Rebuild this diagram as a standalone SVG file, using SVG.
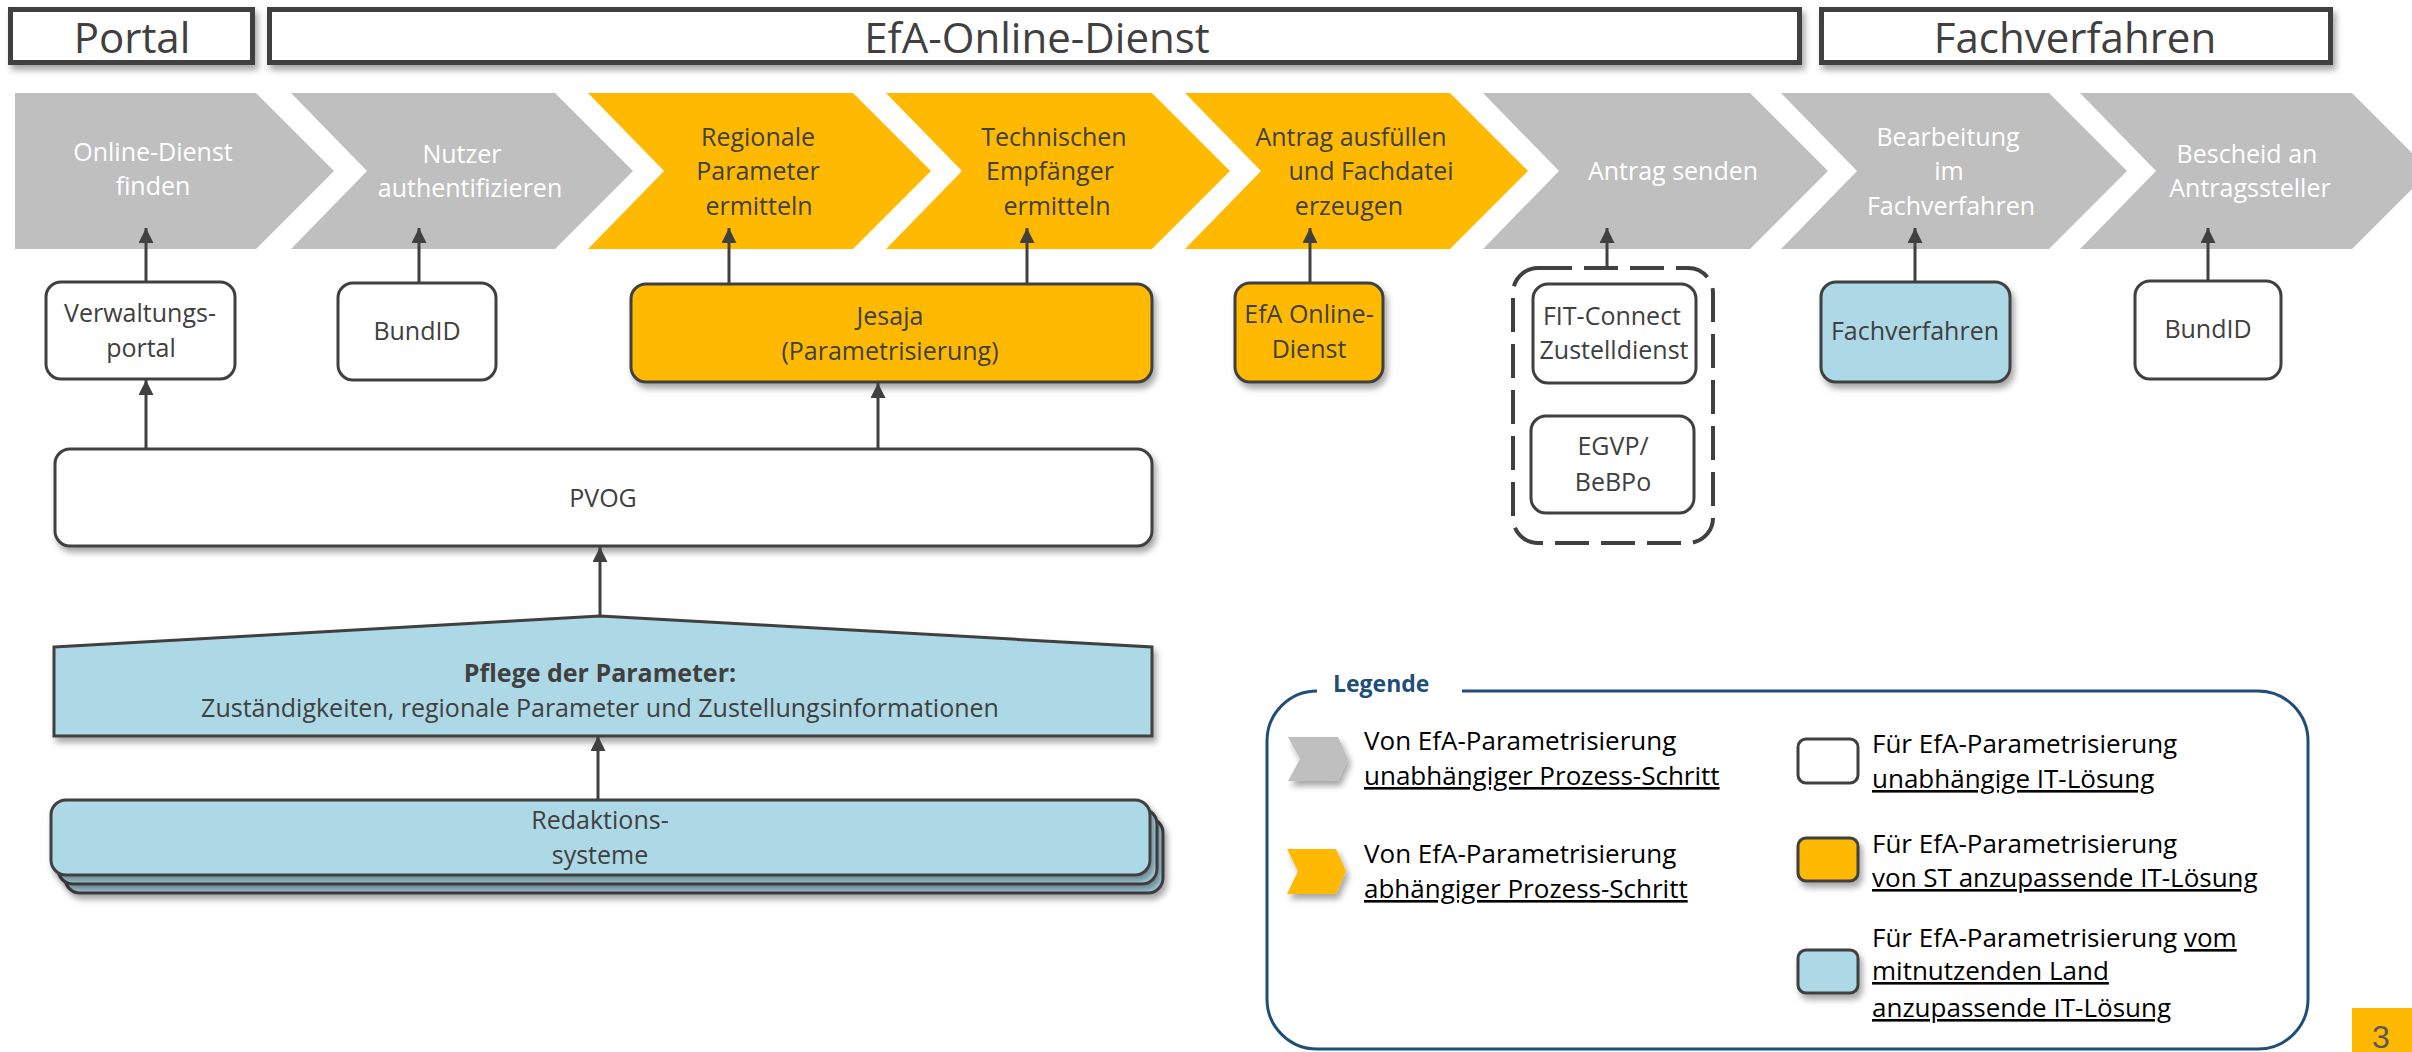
<svg xmlns="http://www.w3.org/2000/svg" width="2412" height="1052" viewBox="0 0 2412 1052">
<defs>
<style>
text{font-family:"Open Sans","Liberation Sans",sans-serif;fill:#404040;font-size:25px;text-anchor:middle}
.w{fill:#ffffff}
.hd{font-size:42px}
.lg{text-anchor:start;fill:#000000;font-size:26px}
.u{text-decoration:underline}
.box{stroke:#404040;stroke-width:3}
.hbox{fill:#ffffff;stroke:#404040;stroke-width:5}
.gray{fill:#BFBFBF}
.org{fill:#FFB900}
.blue{fill:#ADD8E6}
.wh{fill:#ffffff}
.con{stroke:#404040;stroke-width:3;fill:none;marker-end:url(#ah)}
</style>
<marker id="ah" viewBox="0 0 15 15" refX="15" refY="7.5" markerWidth="15" markerHeight="15" markerUnits="userSpaceOnUse" orient="auto">
<path d="M0,0 L15,7.5 L0,15 z" fill="#404040"/>
</marker>
<filter id="sh" x="-10%" y="-20%" width="130%" height="160%">
<feDropShadow dx="3" dy="5" stdDeviation="3" flood-color="#000000" flood-opacity="0.35"/>
</filter>
</defs>

<g id="header-portal">
<rect class="hbox" x="10.5" y="9.5" width="242" height="53" filter="url(#sh)"/>
<text class="hd" x="132" y="53">Portal</text>
</g>
<g id="header-efa">
<rect class="hbox" x="269.5" y="9.5" width="1530" height="53" filter="url(#sh)"/>
<text class="hd" x="1037" y="53">EfA-Online-Dienst</text>
</g>
<g id="header-fach">
<rect class="hbox" x="1821.5" y="9.5" width="509" height="53" filter="url(#sh)"/>
<text class="hd" x="2075" y="53">Fachverfahren</text>
</g>

<g id="step1">
<polygon class="gray" points="15,93 256,93 334,171 256,249 15,249"/>
<text class="w" x="153" y="161">Online-Dienst</text>
<text class="w" x="153" y="195">finden</text>
</g>
<g id="step2">
<polygon class="gray" points="291,93 555,93 633,171 555,249 291,249 367,171"/>
<text class="w" x="462" y="163">Nutzer</text>
<text class="w" x="470" y="197">authentifizieren</text>
</g>
<g id="step3">
<polygon class="org" points="588,93 853,93 931,171 853,249 588,249 664,171"/>
<text x="758" y="146">Regionale</text>
<text x="758" y="180">Parameter</text>
<text x="759" y="215">ermitteln</text>
</g>
<g id="step4">
<polygon class="org" points="886,93 1152,93 1230,171 1152,249 886,249 962,171"/>
<text x="1054" y="146">Technischen</text>
<text x="1050" y="180">Empfänger</text>
<text x="1057" y="215">ermitteln</text>
</g>
<g id="step5">
<polygon class="org" points="1185,93 1450,93 1528,171 1450,249 1185,249 1261,171"/>
<text x="1351" y="146">Antrag ausfüllen</text>
<text x="1371" y="180">und Fachdatei</text>
<text x="1349" y="215">erzeugen</text>
</g>
<g id="step6">
<polygon class="gray" points="1483,93 1750,93 1828,171 1750,249 1483,249 1559,171"/>
<text class="w" x="1673" y="180">Antrag senden</text>
</g>
<g id="step7">
<polygon class="gray" points="1781,93 2049,93 2127,171 2049,249 1781,249 1857,171"/>
<text class="w" x="1948" y="146">Bearbeitung</text>
<text class="w" x="1949" y="180">im</text>
<text class="w" x="1951" y="215">Fachverfahren</text>
</g>
<g id="step8">
<polygon class="gray" points="2080,93 2352,93 2430,171 2352,249 2080,249 2156,171"/>
<text class="w" x="2247" y="163">Bescheid an</text>
<text class="w" x="2250" y="197">Antragssteller</text>
</g>

<g id="verwaltungsportal">
<rect class="box wh" x="46" y="282" width="189" height="97" rx="15"/>
<text x="140" y="322">Verwaltungs-</text>
<text x="141" y="357">portal</text>
</g>
<g id="bundid1">
<rect class="box wh" x="338" y="283" width="158" height="97" rx="15"/>
<text x="417" y="340">BundID</text>
</g>
<g id="jesaja">
<rect class="box org" x="631" y="284" width="521" height="98" rx="15" filter="url(#sh)"/>
<text x="890" y="325">Jesaja</text>
<text x="890" y="360">(Parametrisierung)</text>
</g>
<g id="pvog">
<rect class="box wh" x="55" y="449" width="1097" height="97" rx="15" filter="url(#sh)"/>
<text x="603" y="507">PVOG</text>
</g>
<g id="efa-online">
<rect class="box org" x="1235" y="283" width="148" height="99" rx="15" filter="url(#sh)"/>
<text x="1309" y="323">EfA Online-</text>
<text x="1309" y="358">Dienst</text>
</g>
<g id="zustellung">
<rect x="1513" y="268" width="200" height="275" rx="25" fill="none" stroke="#404040" stroke-width="4" stroke-dasharray="34 12"/>
<g id="fitconnect">
<rect class="box wh" x="1533" y="284" width="163" height="99" rx="15"/>
<text x="1612" y="325">FIT-Connect</text>
<text x="1614" y="359">Zustelldienst</text>
</g>
<g id="egvp">
<rect class="box wh" x="1531" y="416" width="163" height="97" rx="15"/>
<text x="1613" y="455">EGVP/</text>
<text x="1613" y="491">BeBPo</text>
</g>
</g>
<g id="fachverfahren">
<rect class="box blue" x="1821" y="282" width="189" height="100" rx="15" filter="url(#sh)"/>
<text x="1915" y="340">Fachverfahren</text>
</g>
<g id="bundid2">
<rect class="box wh" x="2135" y="281" width="146" height="98" rx="15"/>
<text x="2208" y="338">BundID</text>
</g>
<g id="pflege">
<polygon class="box blue" points="54,647 600,616 1152,647 1152,736 54,736" filter="url(#sh)"/>
<text x="600" y="682" font-weight="bold">Pflege der Parameter:</text>
<text x="600" y="717">Zuständigkeiten, regionale Parameter und Zustellungsinformationen</text>
</g>
<g id="redaktion">
<rect class="box blue" x="65" y="818" width="1098" height="75" rx="15" filter="url(#sh)"/>
<rect class="box blue" x="58" y="809" width="1099" height="75" rx="15" filter="url(#sh)"/>
<rect class="box blue" x="51" y="800" width="1099" height="75" rx="15" filter="url(#sh)"/>
<text x="600" y="829">Redaktions-</text>
<text x="600" y="864">systeme</text>
</g>

<g id="connectors">
<line class="con" x1="146" y1="282" x2="146" y2="228"/>
<line class="con" x1="419" y1="283" x2="419" y2="228"/>
<line class="con" x1="729" y1="284" x2="729" y2="228"/>
<line class="con" x1="1027" y1="284" x2="1027" y2="228"/>
<line class="con" x1="1310" y1="283" x2="1310" y2="228"/>
<line class="con" x1="1607" y1="268" x2="1607" y2="228"/>
<line class="con" x1="1915" y1="282" x2="1915" y2="228"/>
<line class="con" x1="2208" y1="281" x2="2208" y2="228"/>
<line class="con" x1="146" y1="449" x2="146" y2="380"/>
<line class="con" x1="878" y1="449" x2="878" y2="383"/>
<line class="con" x1="600" y1="616" x2="600" y2="547"/>
<line class="con" x1="598" y1="800" x2="598" y2="736"/>
</g>

<g id="legend">
<path d="M1462,691 H2258 A50,50 0 0 1 2308,741 V999 A50,50 0 0 1 2258,1049 H1317 A50,50 0 0 1 1267,999 V741 A50,50 0 0 1 1317,691" fill="none" stroke="#1F4E79" stroke-width="3"/>
<text x="1333" y="692" style="text-anchor:start;fill:#1F4E79;font-weight:bold;font-size:23px">Legende</text>
<polygon class="gray" points="1288,737 1338,737 1348,759 1338,781 1288,781 1300,759" filter="url(#sh)"/>
<text class="lg" x="1364" y="750">Von EfA-Parametrisierung</text>
<text class="lg u" x="1364" y="785">unabhängiger Prozess-Schritt</text>
<polygon class="org" points="1287,849 1336,849 1346,871 1336,894 1287,894 1298,871" filter="url(#sh)"/>
<text class="lg" x="1364" y="863">Von EfA-Parametrisierung</text>
<text class="lg u" x="1364" y="898">abhängiger Prozess-Schritt</text>
<rect class="box wh" x="1798" y="739" width="60" height="44" rx="8"/>
<text class="lg" x="1872" y="753">Für EfA-Parametrisierung</text>
<text class="lg u" x="1872" y="788">unabhängige IT-Lösung</text>
<rect class="box org" x="1798" y="838" width="60" height="43" rx="8" filter="url(#sh)"/>
<text class="lg" x="1872" y="853">Für EfA-Parametrisierung</text>
<text class="lg u" x="1872" y="887">von ST anzupassende IT-Lösung</text>
<rect class="box blue" x="1798" y="950" width="60" height="43" rx="8" filter="url(#sh)"/>
<text class="lg" x="1872" y="947">Für EfA-Parametrisierung <tspan class="u">vom</tspan></text>
<text class="lg u" x="1872" y="980">mitnutzenden Land</text>
<text class="lg u" x="1872" y="1017">anzupassende IT-Lösung</text>
</g>

<g id="pagenum">
<rect class="org" x="2352" y="1008" width="60" height="44"/>
<text x="2381" y="1048" style="font-family:'Liberation Sans',Arial,sans-serif;font-size:32px;fill:#595959">3</text>
</g>
</svg>
